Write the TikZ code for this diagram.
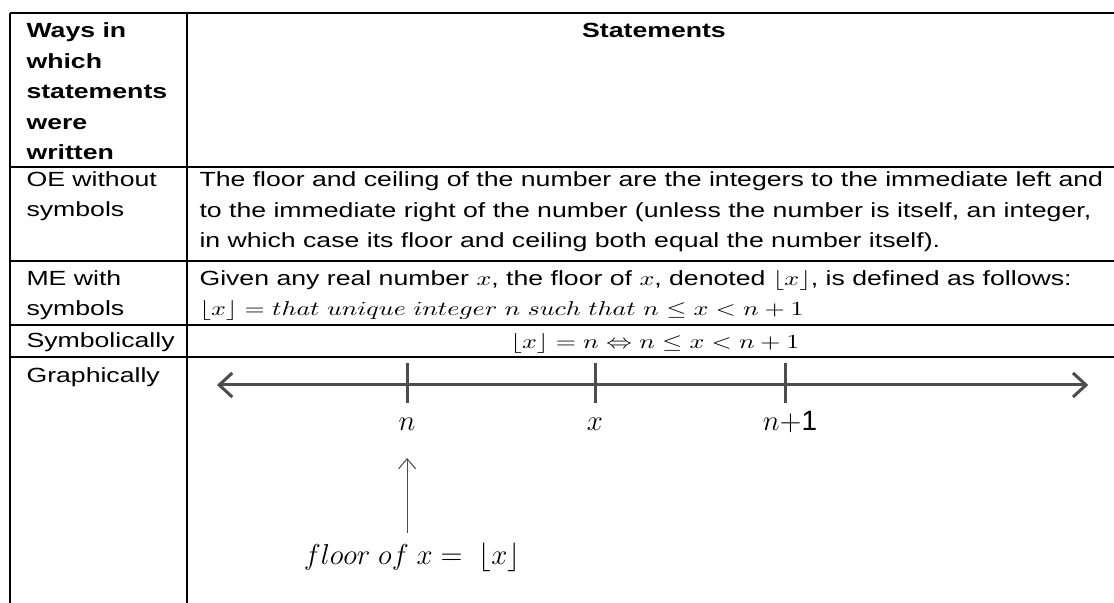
\documentclass[tikz,border=0pt]{standalone}
\usepackage{amssymb}
\usepackage{amsmath}
\usepackage{fontspec}
\setmainfont{Liberation Sans}
\usetikzlibrary{arrows.meta}
\definecolor{linegray}{RGB}{77,77,77}
\definecolor{shadegray}{RGB}{222,222,222}

\begin{document}
\begin{tikzpicture}[x=0.384615pt, y=-0.5pt, xscale=1.3,
    every node/.append style={transform shape, inner sep=0pt},
    txt/.style={anchor=base west, align=left, font=\fontsize{10.25}{15.4}\selectfont},
    hdr/.style={txt, font=\fontsize{10.25}{15.3}\selectfont\bfseries},
    lbl/.style={anchor=base, xscale=0.77, font=\fontsize{14}{16}\selectfont},
    rule/.style={line width=0.9pt},
    numline/.style={line width=1.5pt, draw=linegray},
    shade/.style={line width=1.5pt, draw=shadegray, xshift=1pt, yshift=-1.5pt},
    ptr/.style={line width=0.5pt, draw=linegray, -{Straight Barb[length=5pt, width=8.5pt]}}]
        \useasboundingbox (0,0) rectangle (1114,603);
        % table rules
        \draw[rule] (10,13) -- (1114,13);
        \draw[rule] (10,167) -- (1114,167);
        \draw[rule] (10,261) -- (1114,261);
        \draw[rule] (10,325) -- (1114,325);
        \draw[rule] (10,357) -- (1114,357);
        \draw[rule] (10,13) -- (10,603);
        \draw[rule] (187,13) -- (187,603);
        % cell texts (multi-line nodes sit on their last baseline)
        \node[hdr] (ways) at (26,160) {Ways in\\which\\statements\\were\\written};
        \node[hdr, anchor=base] (stmt) at (654,37.5) {Statements};
        \node[txt] (oe) at (26,217) {OE without\\symbols};
        \node[txt] (oetxt) at (199,248) {The floor and ceiling of the number are the integers to the immediate left and\\to the immediate right of the number (unless the number is itself, an integer,\\in which case its floor and ceiling both equal the number itself).};
        \node[txt] (me) at (26,316) {ME with\\symbols};
        \node[txt] (metxt) at (199,316) {Given any real number $x$, the floor of $x$, denoted $\lfloor x\rfloor$, is defined as follows:\\$\lfloor x\rfloor = that\ unique\ integer\ n\ such\ that\ n \le x < n+1$};
        \node[txt] (sym) at (26,348) {Symbolically};
        \node[txt, anchor=base] (symtxt) at (655,349) {$\lfloor x\rfloor = n \Leftrightarrow n \le x < n+1$};
        \node[txt] (gra) at (26,383) {Graphically};
        % number line
        \coordinate (nlL) at (217,385);
        \coordinate (nlR) at (1088,385);
        \coordinate (tn) at (407,363);
        \coordinate (tx) at (595,363);
        \coordinate (tn1) at (785,363);
        \draw[shade, {Straight Barb[length=6.5pt, width=12pt]}-{Straight Barb[length=6.5pt, width=12pt]}] (nlL) -- (nlR);
        \draw[shade] (tn) -- ++(0,40);
        \draw[shade] (tx) -- ++(0,40);
        \draw[shade] (tn1) -- ++(0,40);
        \draw[numline, {Straight Barb[length=6.5pt, width=12pt]}-{Straight Barb[length=6.5pt, width=12pt]}] (nlL) -- (nlR);
        \draw[numline] (tn) -- ++(0,40);
        \draw[numline] (tx) -- ++(0,40);
        \draw[numline] (tn1) -- ++(0,40);
        \node[lbl] (lbln) at (407,431) {$n$};
        \node[lbl] (lblx) at (595,431) {$x$};
        \node[lbl] (lbln1) at (790,431) {$n{+}$1};
        % pointer to n
        \node[lbl] (flr) at (412,565) {$floor\ of\ x =\ \lfloor x\rfloor$};
        \coordinate (arrS) at (407,533);
        \coordinate (arrE) at (407,458);
        \draw[ptr, draw=shadegray, xshift=1.2pt] (arrS) -- (arrE);
        \draw[ptr] (arrS) -- (arrE);
\end{tikzpicture}
\end{document}
